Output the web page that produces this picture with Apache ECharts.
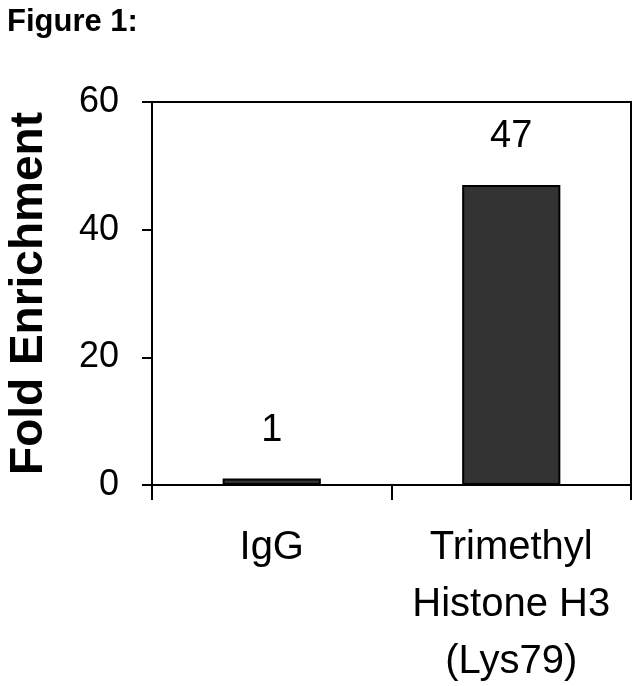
<!DOCTYPE html>
<html>
<head>
<meta charset="utf-8">
<script src="https://cdn.jsdelivr.net/npm/echarts@6/dist/echarts.min.js"></script>
<style>html,body{margin:0;padding:0;background:#fff;}#c{width:640px;height:686px;}</style>
</head>
<body>
<div id="c"></div>
<script>
const categories = ['IgG', 'Trimethyl\nHistone H3\n(Lys79)'];
const foldEnrichment = [1, 47];
const yTicks = [0, 20, 40, 60];

const FONT = '"Liberation Sans", Arial, sans-serif';
const chart = echarts.init(document.getElementById('c'), null, {renderer: 'canvas'});
chart.setOption({
  animation: false,
  backgroundColor: '#fff',
  title: {
    text: 'Figure 1:', left: 2, top: 2,
    textStyle: {fontFamily: FONT, fontSize: 31, fontWeight: 'bold', color: '#000'}
  },
  grid: {
    left: 152, right: 9, top: 102, bottom: 201,
    outerBoundsMode: 'none', containLabel: false,
    show: true, borderColor: '#000', borderWidth: 2, backgroundColor: 'transparent'
  },
  xAxis: {
    type: 'category',
    data: categories,
    axisLine: {lineStyle: {color: '#000', width: 2}},
    axisTick: {show: true, length: 15, lineStyle: {color: '#000', width: 2}},
    axisLabel: {fontFamily: FONT, fontSize: 40, color: '#000', margin: 34, lineHeight: 57, interval: 0}
  },
  yAxis: {
    type: 'value',
    min: yTicks[0], max: yTicks[yTicks.length - 1], interval: 20,
    name: 'Fold Enrichment',
    nameLocation: 'middle',
    nameGap: 100,
    nameTextStyle: {fontFamily: FONT, fontSize: 46, fontWeight: 'bold', color: '#000'},
    axisLine: {show: true, lineStyle: {color: '#000', width: 2}},
    axisTick: {show: true, length: 10, lineStyle: {color: '#000', width: 2}},
    splitLine: {show: false},
    axisLabel: {fontFamily: FONT, fontSize: 36, color: '#000', margin: 33}
  },
  series: [{
    type: 'bar',
    data: foldEnrichment,
    barWidth: '41%',
    itemStyle: {color: '#333333', borderColor: '#000', borderWidth: 2},
    label: {
      show: true, position: 'top', distance: 29,
      fontFamily: FONT, fontSize: 38, color: '#000'
    }
  }]
});
</script>
</body>
</html>
